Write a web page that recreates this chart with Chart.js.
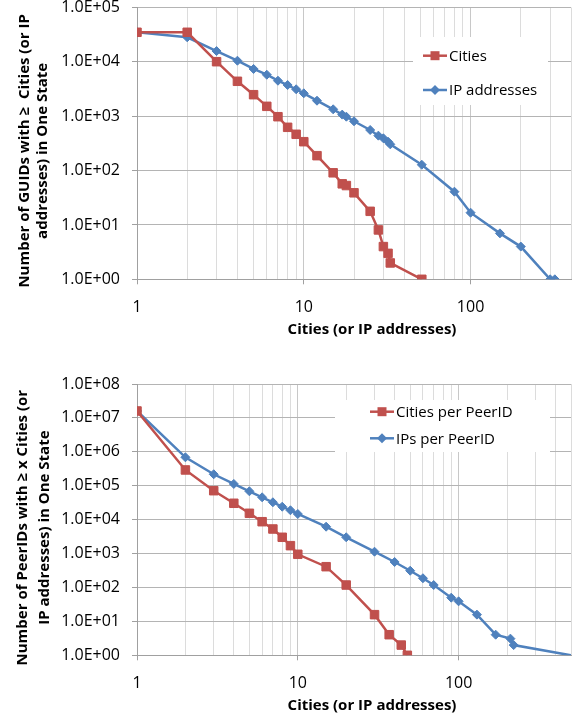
<!DOCTYPE html>
<html>
<head>
<meta charset="utf-8">
<script src="https://cdn.jsdelivr.net/npm/chart.js@4/dist/chart.umd.min.js"></script>
<style>
  body { margin:0; background:#fff; }
  .box { position:absolute; left:0; }
</style>
</head>
<body>
<div class="box" style="top:0"><canvas id="guidChart" width="578" height="345"></canvas></div>
<div class="box" style="top:345px"><canvas id="peerChart" width="578" height="372"></canvas></div>
<script>
// --- top chart: GUIDs ---
const guidCitiesX = [1,2,3,4,5,6,7,8,9,10,12,15,17,18,20,25,28,30,32,33,51];
const guidCitiesY = [35000,35000,10070,4390,2490,1520,980,625,465,340,188,91,57,53,39,17.8,8.1,4,3,2,1];
const guidIpX = [1,2,3,4,5,6,7,8,9,10,12,15,17,18,20,25,28,30,32,33,51,80,100,150,200,300,320];
const guidIpY = [35000,28300,15800,10500,7400,5800,4500,3750,3130,2640,1930,1340,1070,980,807,558,439,393,340,304,128,40.9,16.8,7,4,1,1];
const guidYTicks = [1,10,100,1000,10000,100000];
const guidYLabels = ["1.0E+00","1.0E+01","1.0E+02","1.0E+03","1.0E+04","1.0E+05"];
const guidXGrid = [1,2,3,4,5,6,7,8,9,10,20,30,40,50,60,70,80,90,100,200,300,400];

// --- bottom chart: PeerIDs ---
const peerCitiesX = [1,2,3,4,5,6,7,8,9,10,15,20,30,37,44,48];
const peerCitiesY = [1.6e7,292000,71400,30400,15400,8700,5300,3020,1710,951,410,118,15.8,4.05,2,1];
const peerIpX = [1,2,3,4,5,6,7,8,9,10,15,20,30,40,50,60,70,90,100,130,170,210,220,500];
const peerIpY = [1.6e7,690000,218000,113000,68600,45600,32500,24100,18900,14700,6200,3020,1135,564,312,187,118,50,39,15.8,4.05,3.1,2,1];
const peerYTicks = [1,10,100,1000,1e4,1e5,1e6,1e7,1e8];
const peerYLabels = ["1.0E+00","1.0E+01","1.0E+02","1.0E+03","1.0E+04","1.0E+05","1.0E+06","1.0E+07","1.0E+08"];
const peerXGrid = [1,2,3,4,5,6,7,8,9,10,20,30,40,50,60,70,80,90,100,200,300,400,500];

const xLabelVals = [1,10,100];
const RED = "#C0504D", BLUE = "#4F81BD";
const AXIS = "#A0A0A0";

Chart.defaults.font.family = "'Open Sans', sans-serif";
Chart.defaults.color = "#000";

function pts(xs, ys) { return xs.map((x,i) => ({x, y: ys[i]})); }

// legend box + axis titles drawn straight on the canvas
const extras = {
  id: "extras",
  beforeDatasetsDraw(chart, args, o) {
    const ctx = chart.ctx, L = o.legend;
    ctx.save();
    ctx.fillStyle = "#fff";
    ctx.fillRect(L.x0, L.y0, L.x1 - L.x0, L.y1 - L.y0);
    chart.data.datasets.forEach((ds, i) => {
      const y = L.rows[i], mx = (L.lx0 + L.lx1) / 2;
      ctx.strokeStyle = ds.borderColor; ctx.lineWidth = 2.5;
      ctx.beginPath(); ctx.moveTo(L.lx0, y); ctx.lineTo(L.lx1, y); ctx.stroke();
      ctx.fillStyle = ds.borderColor;
      ctx.beginPath();
      if (ds.pointStyle === "rect") ctx.rect(mx - 4.5, y - 4.5, 9, 9);
      else { ctx.moveTo(mx, y - 5); ctx.lineTo(mx + 5, y); ctx.lineTo(mx, y + 5); ctx.lineTo(mx - 5, y); ctx.closePath(); }
      ctx.fill();
      ctx.fillStyle = "#000";
      ctx.font = "15px 'Open Sans', sans-serif";
      ctx.textBaseline = "middle"; ctx.textAlign = "left";
      ctx.fillText(ds.label, L.tx, y + 1);
    });
    ctx.restore();
  },
  afterDraw(chart, args, o) {
    const ctx = chart.ctx, a = chart.chartArea;
    ctx.save();
    ctx.fillStyle = "#000";
    ctx.font = "bold 15px 'Open Sans', sans-serif";
    ctx.textAlign = "center"; ctx.textBaseline = "middle";
    ctx.fillText(o.xTitle, a.left + o.xTitleDx, a.bottom + o.xTitleDy);
    const cy = (a.top + a.bottom) / 2 + o.yTitleDy;
    o.yTitle.forEach((line, i) => {
      ctx.save();
      ctx.translate(o.yTitleX[i], cy);
      ctx.rotate(-Math.PI / 2);
      ctx.fillText(line, 0, 0);
      ctx.restore();
    });
    ctx.restore();
  }
};

function makeChart(id, cfg) {
  const H = document.getElementById(id).height;
  return new Chart(document.getElementById(id), {
    type: "line",
    data: { datasets: cfg.datasets },
    options: {
      responsive: false, animation: false,
      layout: { padding: { top: cfg.top, right: 6, left: 0, bottom: 0 } },
      plugins: { legend: { display: false }, tooltip: { enabled: false }, extras: cfg.extras },
      scales: {
        x: {
          type: "logarithmic", min: 1, max: cfg.xMax,
          afterBuildTicks: s => { s.ticks = cfg.xGrid.map(v => ({value: v})); },
          afterFit: s => { s.height = H - cfg.bottom; s.paddingLeft = 0; s.paddingRight = 0; },
          ticks: {
            autoSkip: false, maxRotation: 0, padding: 14, font: { size: 16 },
            callback: v => xLabelVals.includes(v) ? String(v) : ""
          },
          grid: {
            tickLength: 5,
            color: c => xLabelVals.includes(c.tick && c.tick.value) ? "#C8C8C8" : "#DCDCDC",
            tickColor: c => xLabelVals.includes(c.tick && c.tick.value) ? AXIS : "rgba(0,0,0,0)"
          },
          border: { color: AXIS }
        },
        y: {
          type: "logarithmic", min: cfg.yTicks[0], max: cfg.yTicks[cfg.yTicks.length - 1],
          afterBuildTicks: s => { s.ticks = cfg.yTicks.map(v => ({value: v})); },
          afterFit: s => { s.width = 137; s.paddingTop = 0; s.paddingBottom = 0; },
          ticks: { padding: 12, font: { size: 16 }, callback: (v, i) => cfg.yLabels[i] },
          grid: { color: "#B4B4B4", tickLength: 5, tickColor: AXIS },
          border: { color: AXIS }
        }
      }
    },
    plugins: [extras]
  });
}

function series(label, xs, ys, color, style, radius) {
  return {
    label, data: pts(xs, ys), borderColor: color, backgroundColor: color,
    borderWidth: 2.5, tension: 0, pointStyle: style,
    pointRadius: radius, pointBorderWidth: 1, pointHoverRadius: radius
  };
}

makeChart("guidChart", {
  top: 7.5, bottom: 279.3, xMax: 400, xGrid: guidXGrid,
  yTicks: guidYTicks, yLabels: guidYLabels,
  datasets: [
    series("Cities", guidCitiesX, guidCitiesY, RED, "rect", 6),
    series("IP addresses", guidIpX, guidIpY, BLUE, "rectRot", 4.5)
  ],
  extras: {
    legend: { x0: 413, x1: 548, y0: 37, y1: 105, rows: [55.7, 90], lx0: 423, lx1: 447, tx: 449 },
    xTitle: "Cities (or IP addresses)", xTitleDx: 235, xTitleDy: 50.5,
    yTitle: ["Number of GUIDs with \u2265  Cities (or IP", "addresses) in One State"],
    yTitleX: [25, 43], yTitleDy: 7.5
  }
});

const peerIp = series("IPs per PeerID", peerIpX, peerIpY, BLUE, "rectRot", 4.5);
peerIp.pointRadius = c => (c.raw && c.raw.x >= 500) ? 0 : 4.5;

makeChart("peerChart", {
  top: 39, bottom: 310.3, xMax: 500, xGrid: peerXGrid,
  yTicks: peerYTicks, yLabels: peerYLabels,
  datasets: [
    series("Cities per PeerID", peerCitiesX, peerCitiesY, RED, "rect", 6),
    peerIp
  ],
  extras: {
    legend: { x0: 335, x1: 550, y0: 55, y1: 107, rows: [66.7, 93.3], lx0: 370, lx1: 394, tx: 396 },
    xTitle: "Cities (or IP addresses)", xTitleDx: 235, xTitleDy: 50,
    yTitle: ["Number of PeerIDs with \u2265 x Cities (or", "IP addresses) in One State"],
    yTitleX: [23, 45], yTitleDy: 8
  }
});
</script>
</body>
</html>
